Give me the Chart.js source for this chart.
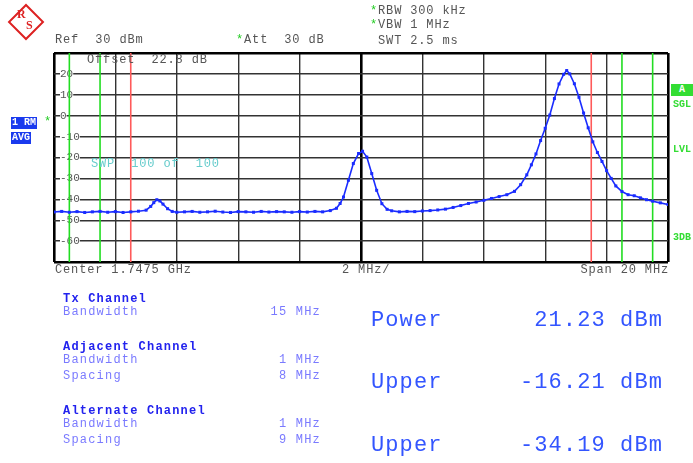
<!DOCTYPE html>
<html>
<head>
<meta charset="utf-8">
<script src="https://cdn.jsdelivr.net/npm/chart.js@4"></script>
<style>
  body { margin: 0; background: #fff; }
  #wrap { position: relative; width: 693px; height: 463px; overflow: hidden; }
  #spec { position: absolute; left: 0; top: 0; }
  .t { position: absolute; font-family: 'Liberation Mono', monospace; font-size: 12px; letter-spacing: 0.85px; color: #555; white-space: pre; line-height: 12px; }
  .star { color: #22cc22; }
  .blue { color: #7a7aff; letter-spacing: 1.2px; }
  .bold { color: #2222ee; font-weight: bold; letter-spacing: 1.2px; }
  .big { font-size: 22px; line-height: 22px; letter-spacing: 1.1px; color: #3355ff; }
  .box { position: absolute; font-family: 'Liberation Mono', monospace; font-size: 10px; font-weight: bold; color: #fff; line-height: 12px; padding: 0 1px; }
  .grn { position: absolute; font-family: 'Liberation Mono', monospace; font-size: 10px; font-weight: bold; color: #33dd33; line-height: 10px; }
  #logo { position: absolute; left: 13px; top: 9px; width: 22px; height: 22px; border: 2px solid #dd2222; transform: rotate(45deg); }
  .lg { position: absolute; font-family: 'Liberation Serif', serif; font-size: 12px; font-weight: bold; color: #dd2222; }
</style>
</head>
<body>
<div id="wrap">
  <canvas id="spec" width="693" height="463"></canvas>

  <div id="logo"></div>
  <div class="lg" style="left:17px;top:7px;">R</div>
  <div class="lg" style="left:26px;top:18px;">S</div>

  <div class="t" style="left:55px;top:34px;">Ref  30 dBm</div>
  <div class="t" style="left:236px;top:34px;"><span class="star">*</span>Att  30 dB</div>
  <div class="t" style="left:370px;top:5px;"><span class="star">*</span>RBW 300 kHz</div>
  <div class="t" style="left:370px;top:19px;"><span class="star">*</span>VBW 1 MHz</div>
  <div class="t" style="left:370px;top:35px;"> SWT 2.5 ms</div>

  <div class="t" style="left:87px;top:54px;">Offset  22.8 dB</div>
  <div class="t" style="left:91px;top:158px;color:#66cccc;">SWP  100 of  100</div>

  <div class="box" style="left:11px;top:117px;background:#1a3aee;">1 RM</div>
  <div class="box" style="left:11px;top:132px;background:#1a3aee;">AVG</div>
  <div class="t" style="left:44px;top:116px;"><span class="star">*</span></div>

  <div class="box" style="left:671px;top:84px;width:20px;background:#33dd33;text-align:center;">A</div>
  <div class="grn" style="left:673px;top:100px;">SGL</div>
  <div class="grn" style="left:673px;top:145px;">LVL</div>
  <div class="grn" style="left:673px;top:233px;">3DB</div>

  <div class="t" style="left:55px;top:264px;">Center 1.7475 GHz</div>
  <div class="t" style="left:342px;top:264px;">2 MHz/</div>
  <div class="t" style="right:24px;top:264px;">Span 20 MHz</div>

  <div class="t bold" style="left:63px;top:293px;">Tx Channel</div>
  <div class="t blue" style="left:63px;top:306px;">Bandwidth</div>
  <div class="t blue" style="right:372px;top:306px;">15 MHz</div>

  <div class="t bold" style="left:63px;top:341px;">Adjacent Channel</div>
  <div class="t blue" style="left:63px;top:354px;">Bandwidth</div>
  <div class="t blue" style="right:372px;top:354px;">1 MHz</div>
  <div class="t blue" style="left:63px;top:370px;">Spacing</div>
  <div class="t blue" style="right:372px;top:370px;">8 MHz</div>

  <div class="t bold" style="left:63px;top:405px;">Alternate Channel</div>
  <div class="t blue" style="left:63px;top:418px;">Bandwidth</div>
  <div class="t blue" style="right:372px;top:418px;">1 MHz</div>
  <div class="t blue" style="left:63px;top:434px;">Spacing</div>
  <div class="t blue" style="right:372px;top:434px;">9 MHz</div>

  <div class="t big" style="left:371px;top:310px;">Power</div>
  <div class="t big" style="right:30px;top:310px;">21.23 dBm</div>
  <div class="t big" style="left:371px;top:372px;">Upper</div>
  <div class="t big" style="right:30px;top:372px;">-16.21 dBm</div>
  <div class="t big" style="left:371px;top:435px;">Upper</div>
  <div class="t big" style="right:30px;top:435px;">-34.19 dBm</div>
</div>

<script>
// frequency offset from center (MHz) and trace level (dBm)
const freqs = [-10, -9.75, -9.5, -9.25, -9, -8.75, -8.5, -8.25, -8, -7.75, -7.5, -7.25, -7.0, -6.85, -6.75, -6.65, -6.55, -6.45, -6.3, -6.15,
  -6.0, -5.75, -5.5, -5.25, -5, -4.75, -4.5, -4.25, -4, -3.75, -3.5, -3.25, -3, -2.75, -2.5, -2.25, -2, -1.75, -1.5, -1.25,
  -1.0, -0.8, -0.68, -0.57, -0.41, -0.25, -0.08, 0.05, 0.19, 0.35, 0.51, 0.68, 0.85, 1.0, 1.25, 1.5, 1.75, 2.0, 2.25, 2.5,
  2.75, 3.0, 3.25, 3.5, 3.75, 4.0, 4.25, 4.5, 4.75, 5.0, 5.2, 5.4, 5.55, 5.7, 5.85, 6.0, 6.15, 6.3, 6.45, 6.6,
  6.7, 6.8, 6.95, 7.1, 7.25, 7.4, 7.55, 7.7, 7.85, 8.0, 8.15, 8.3, 8.5, 8.7, 8.9, 9.1, 9.3, 9.5, 9.75, 10];
const levels = [-46.1, -45.8, -46.2, -45.9, -46.3, -46.0, -45.8, -46.2, -45.9, -46.3, -46.0, -45.7, -45.2, -43.4, -41.6, -40.2, -40.8, -42.3, -44.5, -45.8,
  -46.2, -46.0, -45.8, -46.2, -46.0, -45.7, -46.1, -46.3, -45.9, -46.0, -46.2, -45.8, -46.1, -45.9, -46.0, -46.2, -45.9, -46.1, -45.8, -46.0,
  -45.4, -44.3, -42.0, -38.9, -30.9, -22.9, -18.1, -17.0, -19.8, -27.7, -35.7, -42.1, -44.8, -45.5, -46.0, -45.8, -45.9, -45.6, -45.4, -45.1,
  -44.7, -43.9, -43.0, -42.0, -41.3, -40.5, -39.6, -38.7, -37.8, -36.2, -33.0, -28.3, -23.5, -18.3, -11.9, -6.0, 0.3, 8.2, 15.2, 19.8,
  21.6, 20.0, 15.3, 8.8, 1.3, -5.8, -12.5, -17.6, -21.9, -26.3, -30.0, -33.6, -36.3, -37.8, -38.3, -39.3, -40.2, -40.9, -41.7, -42.5];

// channel limit lines (MHz offset)
const txLimits = [-7.5, 7.5];
const chLimits = [-9.5, -8.5, 8.5, 9.5];

const yMin = -70, yMax = 30;
const yTickLabels = ['20', '10', '0', '-10', '-20', '-30', '-40', '-50', '-60'];

function vline(x, color) {
  return {
    data: [{ x: x, y: yMin }, { x: x, y: yMax }],
    borderColor: color, borderWidth: 1.6, pointRadius: 0, order: 2
  };
}

const datasets = [{
  data: freqs.map((f, i) => ({ x: f, y: levels[i] })),
  borderColor: '#1a2cff',
  backgroundColor: '#1a2cff',
  borderWidth: 1.6,
  pointRadius: 1,
  pointStyle: 'rect',
  tension: 0,
  order: 1
}];
txLimits.forEach(x => datasets.push(vline(x, '#ff5a5a')));
chLimits.forEach(x => datasets.push(vline(x, '#22dd22')));

const ctx = document.getElementById('spec').getContext('2d');
new Chart(ctx, {
  type: 'line',
  data: { datasets: datasets },
  options: {
    responsive: false,
    animation: false,
    layout: { padding: { left: 54, top: 53, right: 25, bottom: 201 } },
    scales: {
      x: {
        type: 'linear', min: -10, max: 10,
        afterFit: s => { s.height = 0; },
        ticks: { display: false, stepSize: 2 },
        border: { display: false },
        grid: {
          drawTicks: false,
          color: ctx => (ctx.tick && Math.abs(ctx.tick.value) % 10 === 0) ? '#000' : '#333',
          lineWidth: ctx => (ctx.tick && Math.abs(ctx.tick.value) % 10 === 0) ? 2.6 : 1.4
        }
      },
      y: {
        min: yMin, max: yMax,
        afterFit: s => { s.width = 0; },
        border: { display: false },
        ticks: {
          stepSize: 10, mirror: true, padding: 6,
          color: '#555',
          font: { family: 'Liberation Mono', size: 11 },
          showLabelBackdrop: true, backdropColor: '#fff', backdropPadding: 0,
          callback: v => yTickLabels.includes(String(v)) ? String(v) : ''
        },
        grid: {
          drawTicks: false,
          color: ctx => (ctx.tick && (ctx.tick.value === yMin || ctx.tick.value === yMax)) ? '#000' : '#333',
          lineWidth: ctx => (ctx.tick && (ctx.tick.value === yMin || ctx.tick.value === yMax)) ? 2.6 : 1.4
        }
      }
    },
    plugins: {
      legend: { display: false },
      tooltip: { enabled: false }
    }
  }
});
</script>
</body>
</html>
